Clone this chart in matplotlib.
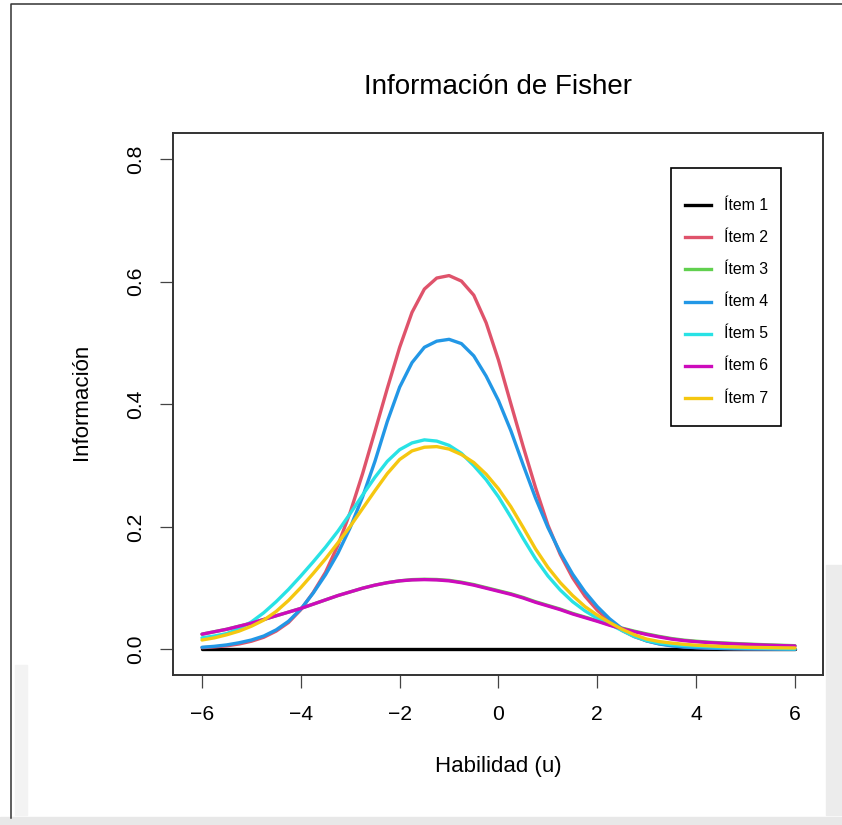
import matplotlib
matplotlib.use("Agg")
import matplotlib.pyplot as plt
from matplotlib.patches import Rectangle
from matplotlib.lines import Line2D

plt.rcParams['font.family'] = ['Liberation Sans', 'DejaVu Sans']

# habilidad (theta) donde se leyeron las curvas, paso 0.25
theta = [-6, -5.75, -5.5, -5.25, -5, -4.75, -4.5, -4.25, -4, -3.75,
         -3.5, -3.25, -3, -2.75, -2.5, -2.25, -2, -1.75, -1.5, -1.25,
         -1, -0.75, -0.5, -0.25, 0, 0.25, 0.5, 0.75, 1, 1.25,
         1.5, 1.75, 2, 2.25, 2.5, 2.75, 3, 3.25, 3.5, 3.75,
         4, 4.25, 4.5, 4.75, 5, 5.25, 5.5, 5.75, 6]

# informacion de cada item
item1 = [0.0, 0.0, 0.0, 0.0, 0.0, 0.0, 0.0, 0.0, 0.0, 0.0,
         0.0, 0.0, 0.0, 0.0, 0.0, 0.0, 0.0, 0.0, 0.0, 0.0,
         0.0, 0.0, 0.0, 0.0, 0.0, 0.0, 0.0, 0.0, 0.0, 0.0,
         0.0, 0.0, 0.0, 0.0, 0.0, 0.0, 0.0, 0.0, 0.0, 0.0,
         0.0, 0.0, 0.0, 0.0, 0.0, 0.0, 0.0, 0.0, 0.0]
item2 = [0.003, 0.0042, 0.006, 0.009, 0.0135, 0.020, 0.030, 0.044, 0.065, 0.093,
         0.126, 0.170, 0.224, 0.287, 0.356, 0.426, 0.493, 0.550, 0.588, 0.606,
         0.610, 0.601, 0.578, 0.533, 0.472, 0.401, 0.331, 0.264, 0.203, 0.155,
         0.117, 0.087, 0.064, 0.046, 0.031, 0.021, 0.014, 0.0095, 0.0065, 0.0045,
         0.0032, 0.0024, 0.0018, 0.0014, 0.0011, 0.0009, 0.0007, 0.0006, 0.0005]
item3 = [0.025, 0.029, 0.033, 0.038, 0.043, 0.049, 0.055, 0.061, 0.067, 0.074,
         0.081, 0.088, 0.094, 0.100, 0.105, 0.109, 0.112, 0.114, 0.1146, 0.1142,
         0.1128, 0.1098, 0.1059, 0.1009, 0.0959, 0.0909, 0.0849, 0.0779, 0.0719, 0.0659,
         0.0589, 0.0529, 0.0469, 0.0404, 0.0349, 0.0299, 0.0254, 0.0214, 0.0179, 0.0153,
         0.0135, 0.012, 0.0109, 0.0099, 0.009, 0.0082, 0.0075, 0.0068, 0.0062]
item4 = [0.0036, 0.0052, 0.0075, 0.011, 0.0155, 0.022, 0.032, 0.046, 0.066, 0.092,
         0.122, 0.157, 0.199, 0.249, 0.307, 0.372, 0.428, 0.468, 0.493, 0.503,
         0.506, 0.499, 0.479, 0.446, 0.406, 0.357, 0.301, 0.247, 0.199, 0.158,
         0.123, 0.094, 0.070, 0.050, 0.034, 0.022, 0.014, 0.009, 0.006, 0.004,
         0.003, 0.0023, 0.0017, 0.0013, 0.001, 0.0008, 0.0007, 0.0006, 0.0005]
item5 = [0.019, 0.022, 0.026, 0.034, 0.045, 0.060, 0.078, 0.098, 0.120, 0.143,
         0.167, 0.193, 0.222, 0.252, 0.281, 0.307, 0.326, 0.337, 0.342, 0.340,
         0.333, 0.320, 0.300, 0.277, 0.249, 0.216, 0.181, 0.148, 0.120, 0.097,
         0.078, 0.063, 0.051, 0.041, 0.031, 0.021, 0.0145, 0.0105, 0.008, 0.0065,
         0.0055, 0.0046, 0.0038, 0.0031, 0.0025, 0.0021, 0.0017, 0.0013, 0.001]
item6 = [0.025, 0.029, 0.033, 0.038, 0.043, 0.049, 0.055, 0.061, 0.067, 0.074,
         0.081, 0.088, 0.094, 0.100, 0.105, 0.109, 0.112, 0.1135, 0.114, 0.1135,
         0.112, 0.109, 0.105, 0.100, 0.095, 0.090, 0.084, 0.077, 0.071, 0.065,
         0.058, 0.052, 0.046, 0.0395, 0.034, 0.029, 0.0245, 0.0205, 0.017, 0.0145,
         0.0127, 0.0113, 0.0102, 0.0092, 0.0084, 0.0076, 0.0069, 0.0063, 0.0057]
item7 = [0.0155, 0.019, 0.024, 0.030, 0.038, 0.048, 0.062, 0.080, 0.101, 0.124,
         0.148, 0.174, 0.201, 0.230, 0.259, 0.287, 0.310, 0.324, 0.330, 0.331,
         0.327, 0.318, 0.305, 0.286, 0.262, 0.233, 0.199, 0.164, 0.134, 0.109,
         0.088, 0.070, 0.056, 0.044, 0.033, 0.024, 0.017, 0.013, 0.0105, 0.0085,
         0.007, 0.006, 0.005, 0.0043, 0.0037, 0.0033, 0.003, 0.0027, 0.0025]

series = [item1, item2, item3, item4, item5, item6, item7]
etiquetas = ["Ítem 1", "Ítem 2", "Ítem 3", "Ítem 4", "Ítem 5", "Ítem 6", "Ítem 7"]
colores = ["#000000", "#DF536B", "#61D04F", "#2297E6", "#28E2E5", "#CD0BBC", "#F5C710"]

W, H = 842, 825
fig = plt.figure(figsize=(W / 100, H / 100), dpi=100)

# marca de agua tenue del documento escaneado
fig.patches.append(Rectangle((826 / W, 1 - 815 / H), 16 / W, 250 / H, transform=fig.transFigure,
                             color='#ececec', zorder=0))
fig.patches.append(Rectangle((0, 0), 1, 8 / H, transform=fig.transFigure, color='#e8e8e8', zorder=0))
fig.patches.append(Rectangle((15 / W, 1 - 815 / H), 12 / W, 150 / H, transform=fig.transFigure,
                             color='#f3f3f3', zorder=0))

# borde de la pagina
fig.lines.append(Line2D([10.5 / W, 10.5 / W, 1], [1 - 818 / H, 1 - 4 / H, 1 - 4 / H],
                        transform=fig.transFigure, color='#333333', lw=1.1))

ax = fig.add_axes([173 / W, 1 - 675 / H, 650 / W, 542 / H])
ax.set_facecolor('none')

for serie, col in zip(series, colores):
    ax.plot(theta, serie, color=col, lw=2.4, solid_capstyle='round', solid_joinstyle='round')

ax.set_xlim(-6.587, 6.567)
ax.set_ylim(-0.0416, 0.8426)
ax.set_xticks([-6, -4, -2, 0, 2, 4, 6])
ax.set_yticks([0, 0.2, 0.4, 0.6, 0.8])
ax.set_yticklabels(["0.0", "0.2", "0.4", "0.6", "0.8"], rotation=90, va='center')
ax.tick_params(length=9.4, width=0.9, color='#444444', labelsize=15.2)
ax.tick_params(axis='x', pad=12.5)
ax.tick_params(axis='y', pad=11)
for s in ax.spines.values():
    s.set_linewidth(1.4)
    s.set_color('#333333')

fig.text(498 / W, 1 - 94 / H, "Información de Fisher", ha='center', va='baseline', fontsize=20)
fig.text(498 / W, 1 - 772 / H, "Habilidad (u)", ha='center', va='baseline', fontsize=16)
fig.text(87 / W, 1 - 402 / H, "Información", rotation=90, rotation_mode='anchor',
         ha='center', va='baseline', fontsize=16)

# leyenda como la de R
fig.patches.append(Rectangle((671 / W, 1 - 425.7 / H), 110 / W, 257.4 / H, transform=fig.transFigure,
                             fill=False, ec='black', lw=1.2, zorder=5))
for i, (lab, col) in enumerate(zip(etiquetas, colores)):
    yy = 1 - (205 + 32.2 * i) / H
    fig.lines.append(Line2D([685 / W, 711 / W], [yy, yy], transform=fig.transFigure,
                            color=col, lw=2.4, zorder=6))
    fig.text(724 / W, yy, lab, ha='left', va='center', fontsize=11.4, zorder=6)

fig.savefig("out.png", dpi=100)
